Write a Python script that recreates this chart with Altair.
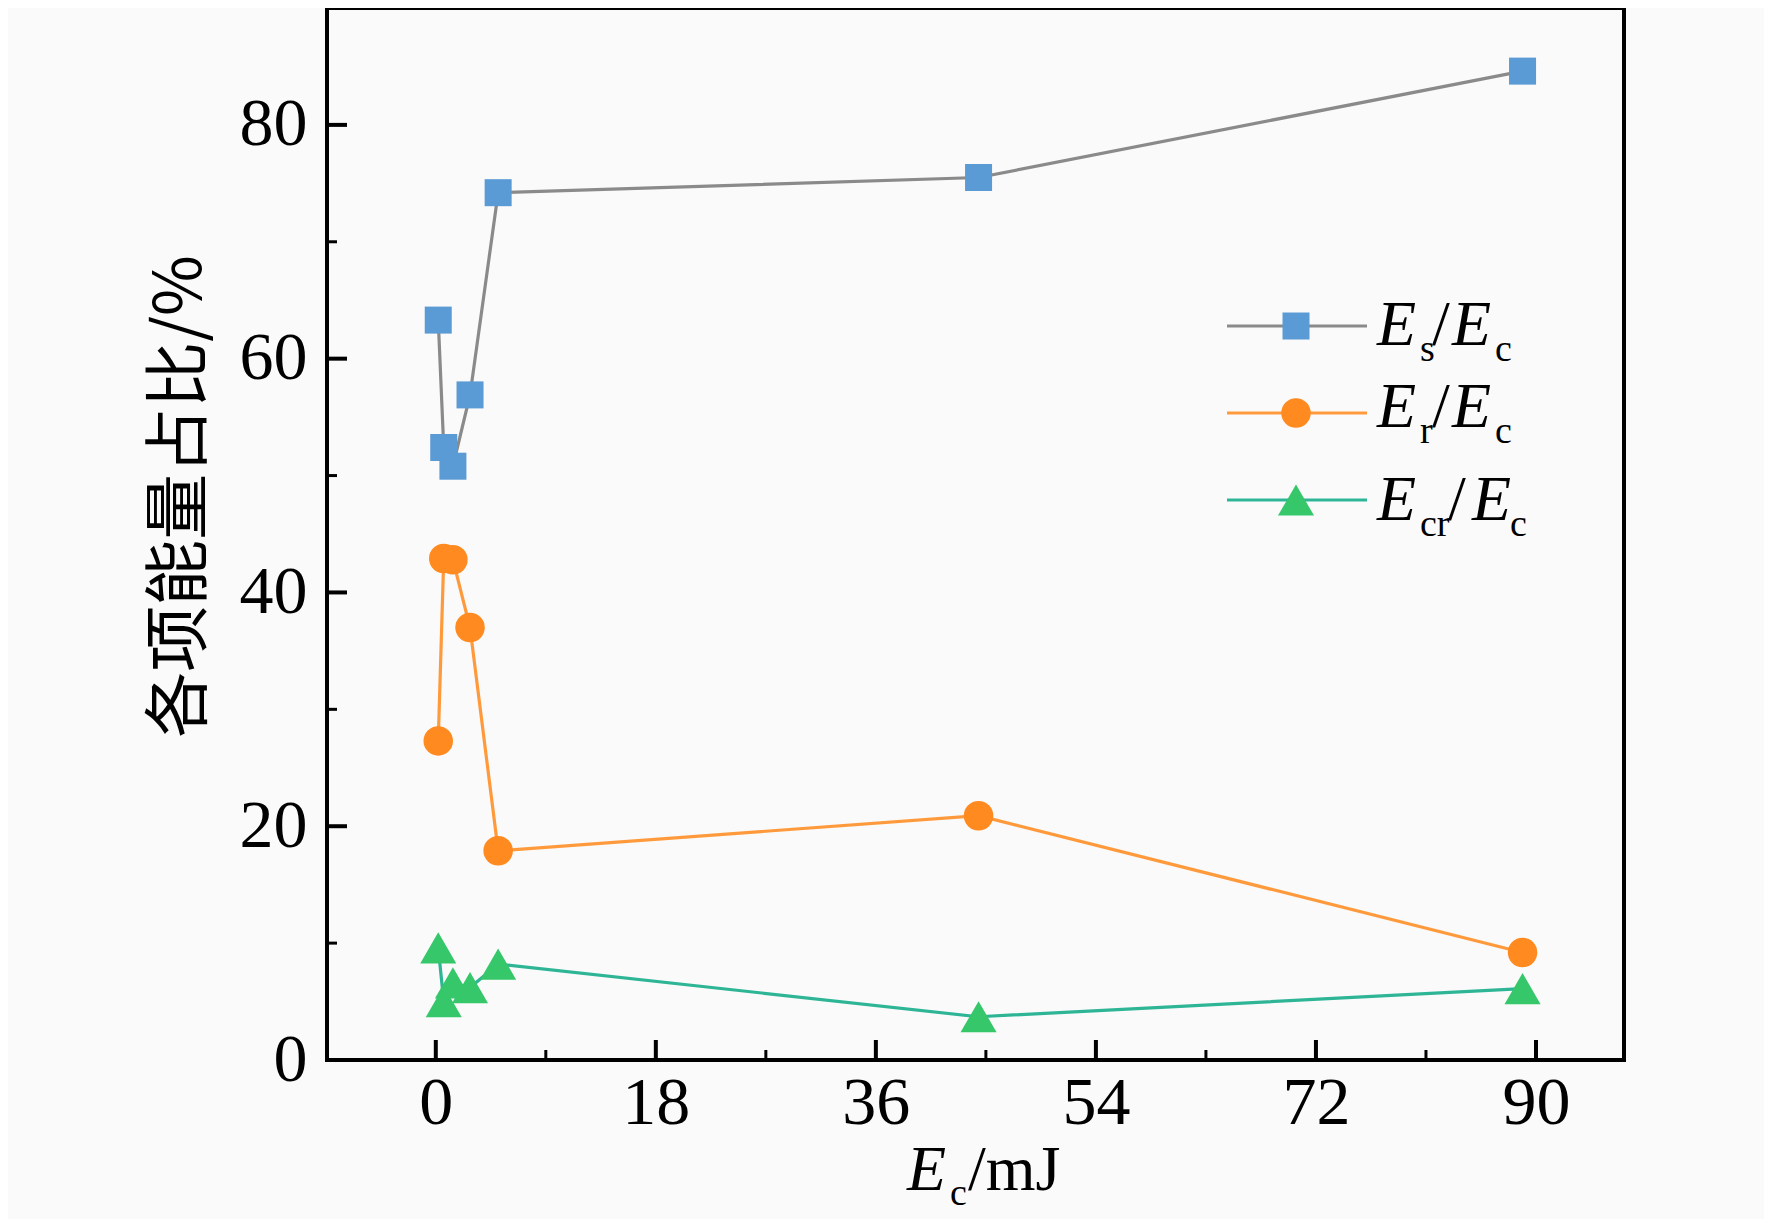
import altair as alt
import pandas as pd

# ---- data ----
x_vals = [0.2, 0.65, 1.4, 2.8, 5.1, 44.4, 88.9]
es_vals = [63.3, 52.4, 50.8, 56.9, 74.2, 75.5, 84.6]
er_vals = [27.3, 42.9, 42.8, 37.0, 17.9, 20.9, 9.2]
ecr_vals = [9.6, 5.0, 6.6, 6.2, 8.2, 3.7, 6.1]
series = ["Es", "Er", "Ecr"]
sub_labels = ["s", "r", "cr"]
x_major = [0, 18, 36, 54, 72, 90]
x_minor = [9, 27, 45, 63, 81]
y_major = [0, 20, 40, 60, 80]
y_minor = [10, 30, 50, 70]

# ---- layout / style ----
W, H = 1297, 1052
FONT = "Liberation Serif"
line_colors = ["#8a8a8a", "#ff9a3c", "#2db596"]
fill_colors = ["#5b9bd5", "#ff8a1f", "#35c76a"]
shapes = ["square", "circle", "triangle-up"]
sizes = [730, 870, 1300]

rows = []
for s, vals in zip(series, [es_vals, er_vals, ecr_vals]):
    for i, (xv, yv) in enumerate(zip(x_vals, vals)):
        rows.append({"series": s, "x": xv, "v": yv, "idx": i})
df = pd.DataFrame(rows)

xscale = alt.Scale(domain=[-8.9, 97.2], nice=False, zero=False)
yscale = alt.Scale(domain=[0, 90], nice=False, zero=False)
cscale = alt.Scale(domain=series, range=line_colors)
fscale = alt.Scale(domain=series, range=fill_colors)
sscale = alt.Scale(domain=series, range=shapes)
zscale = alt.Scale(type="ordinal", domain=series, range=sizes)

axis_x = alt.Axis(values=x_major, ticks=False, domain=False, grid=False,
                  labelFont=FONT, labelFontSize=68, labelPadding=9,
                  labelColor="black", title=None, labelFlush=False,
                  format="d")
axis_y = alt.Axis(values=y_major, ticks=False, domain=False, grid=False,
                  labelFont=FONT, labelFontSize=68, labelPadding=20,
                  labelColor="black", format="d",
                  title="各项能量占比/%", titleFont="Noto Sans CJK SC",
                  titleFontSize=66, titleFontWeight="normal",
                  titleColor="black", titleAngle=270, titleX=-147,
                  titleY=488, titleAlign="center", titleBaseline="middle")

base = alt.Chart(df)
lines = base.mark_line(strokeWidth=3.2).encode(
    x=alt.X("x:Q", scale=xscale, axis=axis_x),
    y=alt.Y("v:Q", scale=yscale, axis=axis_y),
    color=alt.Color("series:N", scale=cscale, legend=None),
    order="idx:Q",
)
points = base.mark_point(filled=True, opacity=1, strokeWidth=0).encode(
    x=alt.X("x:Q", scale=xscale, axis=axis_x),
    y=alt.Y("v:Q", scale=yscale, axis=axis_y),
    fill=alt.Fill("series:N", scale=fscale, legend=None),
    shape=alt.Shape("series:N", scale=sscale, legend=None),
    size=alt.Size("series:N", scale=zscale, legend=None),
)

# inward ticks
xmaj = alt.Chart(pd.DataFrame({"x": x_major})).mark_rule(strokeWidth=4, color="black").encode(
    x=alt.X("x:Q", scale=xscale, axis=axis_x), y=alt.value(H), y2=alt.value(H - 20))
xmin = alt.Chart(pd.DataFrame({"x": x_minor})).mark_rule(strokeWidth=3, color="black").encode(
    x=alt.X("x:Q", scale=xscale, axis=axis_x), y=alt.value(H), y2=alt.value(H - 10))
ymaj = alt.Chart(pd.DataFrame({"v": y_major})).mark_rule(strokeWidth=4, color="black").encode(
    y=alt.Y("v:Q", scale=yscale, axis=axis_y), x=alt.value(0), x2=alt.value(20))
ymin = alt.Chart(pd.DataFrame({"v": y_minor})).mark_rule(strokeWidth=3, color="black").encode(
    y=alt.Y("v:Q", scale=yscale, axis=axis_y), x=alt.value(0), x2=alt.value(10))

# ---- custom legend ----
row_y = [318, 405, 492]
text_base = [337, 419, 512]
leg = pd.DataFrame({"series": series, "x1": [900] * 3, "x2": [1040] * 3,
                    "xs": [969] * 3, "y": row_y})
leg_lines = alt.Chart(leg).mark_rule(strokeWidth=3.2).encode(
    x=alt.X("x1:Q", scale=None, axis=None), x2="x2:Q",
    y=alt.Y("y:Q", scale=None, axis=None),
    color=alt.Color("series:N", scale=cscale, legend=None))
leg_pts = alt.Chart(leg).mark_point(filled=True, opacity=1, strokeWidth=0).encode(
    x=alt.X("xs:Q", scale=None, axis=None),
    y=alt.Y("y:Q", scale=None, axis=None),
    fill=alt.Fill("series:N", scale=fscale, legend=None),
    shape=alt.Shape("series:N", scale=sscale, legend=None),
    size=alt.Size("series:N", scale=zscale, legend=None))

e2_x = [1125, 1125, 1145]
slash_x = [1105, 1105, 1121]
c_x = [1168, 1168, 1183]

big_e = pd.DataFrame({"t": ["E"] * 6 + ["E"],
                      "x": [1050] * 3 + e2_x + [580],
                      "y": text_base + text_base + [1182]})
slashes = pd.DataFrame({"t": ["/"] * 3 + ["/mJ"],
                        "x": slash_x + [641],
                        "y": text_base + [1182]})
subs = pd.DataFrame({"t": sub_labels + ["c"] * 3 + ["c"],
                     "x": [1093] * 3 + c_x + [623],
                     "y": [b + 16 for b in text_base] * 2 + [1197]})


def text_layer(d, size, style):
    return alt.Chart(d).mark_text(align="left", baseline="alphabetic", font=FONT,
                                  fontSize=size, fontStyle=style, color="black").encode(
        x=alt.X("x:Q", scale=None, axis=None),
        y=alt.Y("y:Q", scale=None, axis=None),
        text="t:N")


t_e = text_layer(big_e, 64, "italic")
t_sl = text_layer(slashes, 64, "normal")
t_sub = text_layer(subs, 38, "normal")

chart = alt.layer(
    lines, points, xmaj, xmin, ymaj, ymin, leg_lines, leg_pts, t_e, t_sl, t_sub
).properties(
    width=W, height=H,
    autosize=alt.AutoSizeParams(type="none"),
    padding={"left": 319, "top": 0, "right": 140, "bottom": 159},
    background="#fafafa",
).configure_view(stroke="black", strokeWidth=4)

chart.save("out.html", embed_options={"renderer": "svg", "actions": False})
